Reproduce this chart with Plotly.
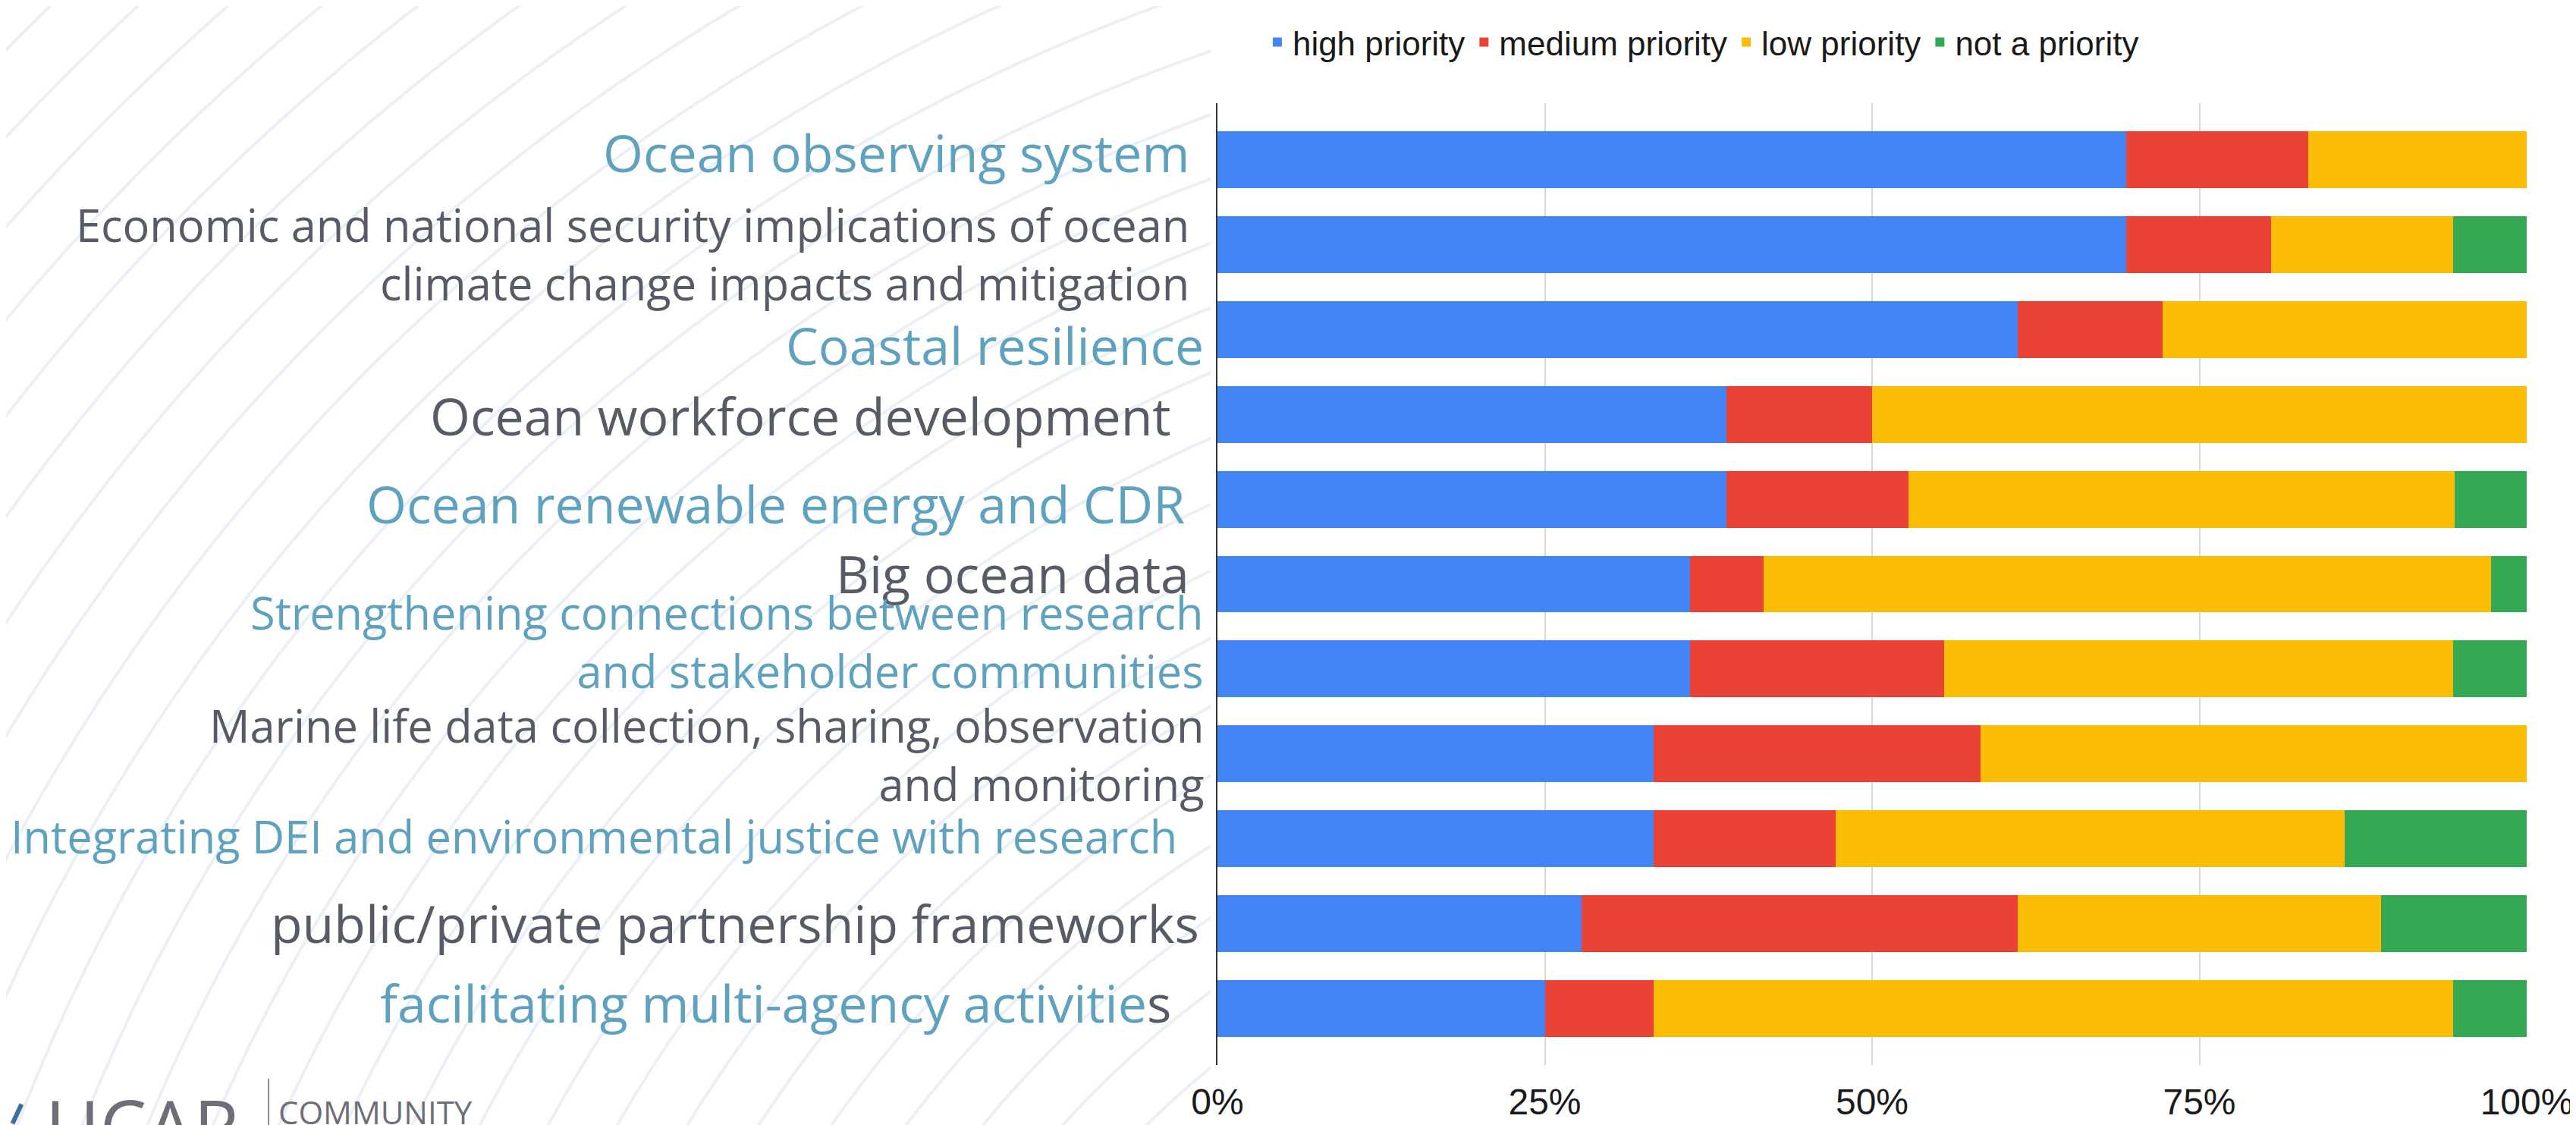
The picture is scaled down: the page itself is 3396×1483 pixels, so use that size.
import plotly.graph_objects as go

# ---------------- data ----------------
categories = [
    "Ocean observing system",
    "Economic and national security implications of ocean climate change impacts and mitigation",
    "Coastal resilience",
    "Ocean workforce development",
    "Ocean renewable energy and CDR",
    "Big ocean data",
    "Strengthening connections between research and stakeholder communities",
    "Marine life data collection, sharing, observation and monitoring",
    "Integrating DEI and environmental justice with research",
    "public/private partnership frameworks",
    "facilitating multi-agency activities",
]
high_priority = [69.4, 69.4, 61.1, 38.9, 38.9, 36.1, 36.1, 33.3, 33.3, 27.8, 25.0]
medium_priority = [13.9, 11.1, 11.1, 11.1, 13.9, 5.6, 19.4, 25.0, 13.9, 33.3, 8.3]
low_priority = [16.7, 13.9, 27.8, 50.0, 41.7, 55.6, 38.9, 41.7, 38.9, 27.8, 61.1]
not_priority = [0.0, 5.6, 0.0, 0.0, 5.6, 2.8, 5.6, 0.0, 13.9, 11.1, 5.6]
series_names = ["high priority", "medium priority", "low priority", "not a priority"]
tick_vals = [0, 25, 50, 75, 100]
tick_text = ["0%", "25%", "50%", "75%", "100%"]

# ---------------- layout geometry (pixels) ----------------
FW, FH = 3396, 1483
L, R, T, B = 1597, 66, 126, 76
W = FW - L - R
H = FH - T - B


def px(x):
    return (x - L) / W


def py(y):
    return 1 - (y - T) / H


TEAL = "#5FA2BF"
GRAY = "#575B66"
colors = ["#4285F4", "#EA4335", "#FBBC04", "#34A853"]

fig = go.Figure()
for name, vals, col in zip(series_names,
                           [high_priority, medium_priority, low_priority, not_priority],
                           colors):
    fig.add_trace(go.Bar(
        y=categories, x=vals, name=name, orientation="h",
        marker=dict(color=col, line=dict(width=0)),
    ))

# ---------------- category labels (slide text boxes) ----------------
label_text = [
    "Ocean observing system",
    "Economic and national security implications of ocean<br>climate change impacts and mitigation",
    "Coastal resilience",
    "Ocean workforce development",
    "Ocean renewable energy and CDR",
    "Big ocean data",
    "Strengthening connections between research<br>and stakeholder communities",
    "Marine life data collection, sharing, observation<br>and monitoring",
    "Integrating DEI and environmental justice with research",
    "public/private partnership frameworks",
    "facilitating multi-agency activitie<span style='color:%s'>s</span>" % GRAY,
]
label_color = [TEAL, GRAY, TEAL, GRAY, TEAL, GRAY, TEAL, GRAY, TEAL, GRAY, TEAL]
label_size = [68, 59.5, 68, 68, 68, 68, 59.5, 59.5, 59.5, 68, 68]
label_xshift = [-35, -35, -16, -59, -41, -35, -16, -16, -51, -22, -59]
label_yshift = [10, -11, -20, -1, -5, 15, 37, 0, 4, 1, 8]

for cat, txt, col, sz, xs, ys in zip(categories, label_text, label_color,
                                     label_size, label_xshift, label_yshift):
    fig.add_annotation(
        x=0, xref="paper", y=cat, yref="y",
        text=txt, showarrow=False, xanchor="right", yanchor="middle",
        align="right", xshift=xs, yshift=ys,
        font=dict(family="Open Sans", size=sz, color=col),
    )

# ---------------- logo ----------------
fig.add_annotation(x=px(44), y=py(1418), xref="paper", yref="paper",
                   text="UCAR", showarrow=False, xanchor="left", yanchor="top",
                   font=dict(family="Open Sans", size=98, color="#6D6E78"))
fig.add_annotation(x=px(352), y=py(1438), xref="paper", yref="paper",
                   text="COMMUNITY", showarrow=False, xanchor="left", yanchor="top",
                   font=dict(family="Open Sans", size=42, color="#6D6E78"))

shapes = []
# faint background arcs
cx, cy = 2400, 2400
for r in range(1200, 3500, 80):
    shapes.append(dict(type="circle", xref="paper", yref="paper",
                       x0=px(cx - r), x1=px(cx + r), y0=py(cy + r), y1=py(cy - r),
                       line=dict(color="rgba(232,238,244,0.9)", width=4),
                       layer="below"))
# white panel behind the chart
shapes.append(dict(type="rect", xref="paper", yref="paper",
                   x0=px(1588), x1=px(FW + 10), y0=py(FH + 10), y1=py(-10),
                   fillcolor="white", line=dict(width=0), layer="below"))
# logo separator and swoosh
shapes.append(dict(type="line", xref="paper", yref="paper",
                   x0=px(341), x1=px(341), y0=py(1425), y1=py(FH + 5),
                   line=dict(color="#8A8B93", width=2)))
shapes.append(dict(type="line", xref="paper", yref="paper",
                   x0=px(2), x1=px(14), y0=py(FH + 2), y1=py(1459),
                   line=dict(color="#3F6F9C", width=6)))

fig.update_layout(
    width=FW, height=FH,
    margin=dict(l=L, r=R, t=T, b=B, pad=0),
    barmode="stack", bargap=0.33,
    paper_bgcolor="white", plot_bgcolor="white",
    shapes=shapes,
    legend=dict(orientation="h", x=px(2239), xanchor="center",
                y=py(45), yanchor="middle", traceorder="normal",
                font=dict(family="Liberation Sans, Arial", size=44, color="#1A1A1A"),
                bgcolor="rgba(0,0,0,0)", itemwidth=30),
    xaxis=dict(range=[0, 100], tickvals=tick_vals, ticktext=tick_text,
               showgrid=True, gridcolor="#D9D9D9", gridwidth=2,
               zeroline=False, showline=False, ticks="",
               ticklabelstandoff=16,
               tickfont=dict(family="Liberation Sans, Arial", size=48, color="#1A1A1A")),
    yaxis=dict(type="category", categoryorder="array", categoryarray=categories,
               range=[10.67, -0.67], showticklabels=False, showgrid=False,
               zeroline=False, showline=True, linecolor="#333333", linewidth=2,
               ticks=""),
)

fig.write_html("out.html")
